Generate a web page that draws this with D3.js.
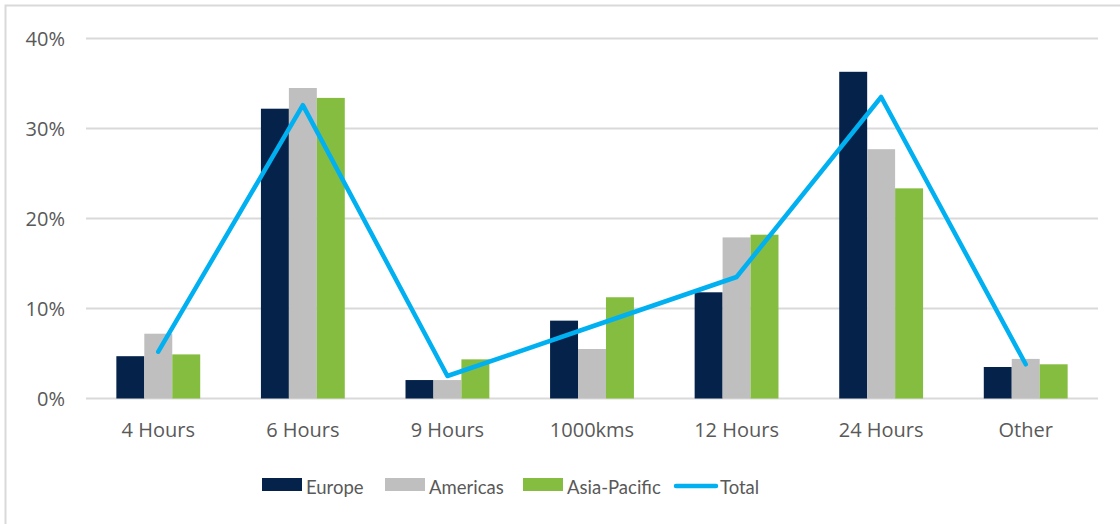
<!doctype html>
<html>
<head>
  <meta charset="utf-8">
  <title>travel time chart</title>
  <style>
    html, body { margin: 0; padding: 0; background: #fff; }
    #chart { width: 1120px; height: 524px; overflow: hidden; }
    text { fill: #595959; }
    .axis-label { font-family: "Open Sans", sans-serif; }
    .legend-label { font-family: Lato, sans-serif; }
  </style>
</head>
<body>
  <div id="chart"></div>
  <script src="https://d3js.org/d3.v7.min.js"></script>
  <script>
    const categories = ['4 Hours', '6 Hours', '9 Hours', '1000kms', '12 Hours', '24 Hours', 'Other'];
    const europe = [4.7, 32.2, 2.05, 8.65, 11.8, 36.3, 3.5];
    const americas = [7.2, 34.5, 2.05, 5.5, 17.9, 27.7, 4.4];
    const asiaPacific = [4.9, 33.4, 4.35, 11.25, 18.2, 23.35, 3.8];
    const total = [5.2, 32.6, 2.5, 8.0, 13.5, 33.5, 3.8];
    const yTicks = [0, 10, 20, 30, 40];

    const barSeries = [
      { name: 'Europe', values: europe, color: '#04224a' },
      { name: 'Americas', values: americas, color: '#bfbfbf' },
      { name: 'Asia-Pacific', values: asiaPacific, color: '#85bd41' }
    ];
    const lineColor = '#00b0f0';

    const svg = d3.select('#chart').append('svg')
      .attr('width', 1120)
      .attr('height', 524);

    // chart frame, only left and top edges show in the crop
    svg.append('rect')
      .attr('x', 5.5).attr('y', 5.5)
      .attr('width', 1200).attr('height', 600)
      .attr('fill', 'none')
      .attr('stroke', '#d9d9d9')
      .attr('stroke-width', 2);

    const plotLeft = 86, plotRight = 1098, plotTop = 38.5, plotBottom = 398.5;

    const x = d3.scaleBand().domain(categories).range([plotLeft, plotRight]).paddingInner(0.42).paddingOuter(0.21);
    const x1 = d3.scaleBand().domain(barSeries.map(d => d.name)).range([0, x.bandwidth()]);
    const y = d3.scaleLinear().domain([0, 40]).range([plotBottom, plotTop]);

    // gridlines
    svg.append('g').selectAll('line')
      .data(yTicks)
      .join('line')
      .attr('x1', plotLeft).attr('x2', plotRight)
      .attr('y1', d => y(d)).attr('y2', d => y(d))
      .attr('stroke', '#d9d9d9')
      .attr('stroke-width', 2);

    // y labels
    svg.append('g').selectAll('text')
      .data(yTicks)
      .join('text')
      .attr('class', 'axis-label')
      .attr('x', 65)
      .attr('y', d => y(d))
      .attr('dy', '0.35em')
      .attr('text-anchor', 'end')
      .attr('font-size', 20)
      .text(d => d + '%');

    // bars
    const groups = svg.append('g').selectAll('g')
      .data(categories)
      .join('g')
      .attr('transform', d => `translate(${x(d)},0)`);

    groups.selectAll('rect')
      .data((c, i) => barSeries.map(s => ({ name: s.name, color: s.color, v: s.values[i] })))
      .join('rect')
      .attr('x', d => x1(d.name))
      .attr('width', x1.bandwidth())
      .attr('y', d => y(d.v))
      .attr('height', d => y(0) - y(d.v))
      .attr('fill', d => d.color);

    // total line
    const line = d3.line()
      .x((d, i) => x(categories[i]) + x.bandwidth() / 2)
      .y(d => y(d));

    svg.append('path')
      .datum(total)
      .attr('d', line)
      .attr('fill', 'none')
      .attr('stroke', lineColor)
      .attr('stroke-width', 4.5)
      .attr('stroke-linejoin', 'round')
      .attr('stroke-linecap', 'round');

    // x labels
    svg.append('g').selectAll('text')
      .data(categories)
      .join('text')
      .attr('class', 'axis-label')
      .attr('x', d => x(d) + x.bandwidth() / 2)
      .attr('y', 437)
      .attr('text-anchor', 'middle')
      .attr('font-size', 20)
      .text(d => d);

    // legend
    const legend = svg.append('g');
    const legendX = [262, 385, 523];
    barSeries.forEach((s, i) => {
      legend.append('rect')
        .attr('x', legendX[i]).attr('y', 478)
        .attr('width', 40).attr('height', 13)
        .attr('fill', s.color);
      legend.append('text')
        .attr('class', 'legend-label')
        .attr('x', legendX[i] + 44).attr('y', 494)
        .attr('font-size', 18.5)
        .text(s.name);
    });
    legend.append('line')
      .attr('x1', 676).attr('x2', 716)
      .attr('y1', 486).attr('y2', 486)
      .attr('stroke', lineColor)
      .attr('stroke-width', 4.5)
      .attr('stroke-linecap', 'round');
    legend.append('text')
      .attr('class', 'legend-label')
      .attr('x', 720).attr('y', 494)
      .attr('font-size', 18.5)
      .text('Total');
  </script>
</body>
</html>
